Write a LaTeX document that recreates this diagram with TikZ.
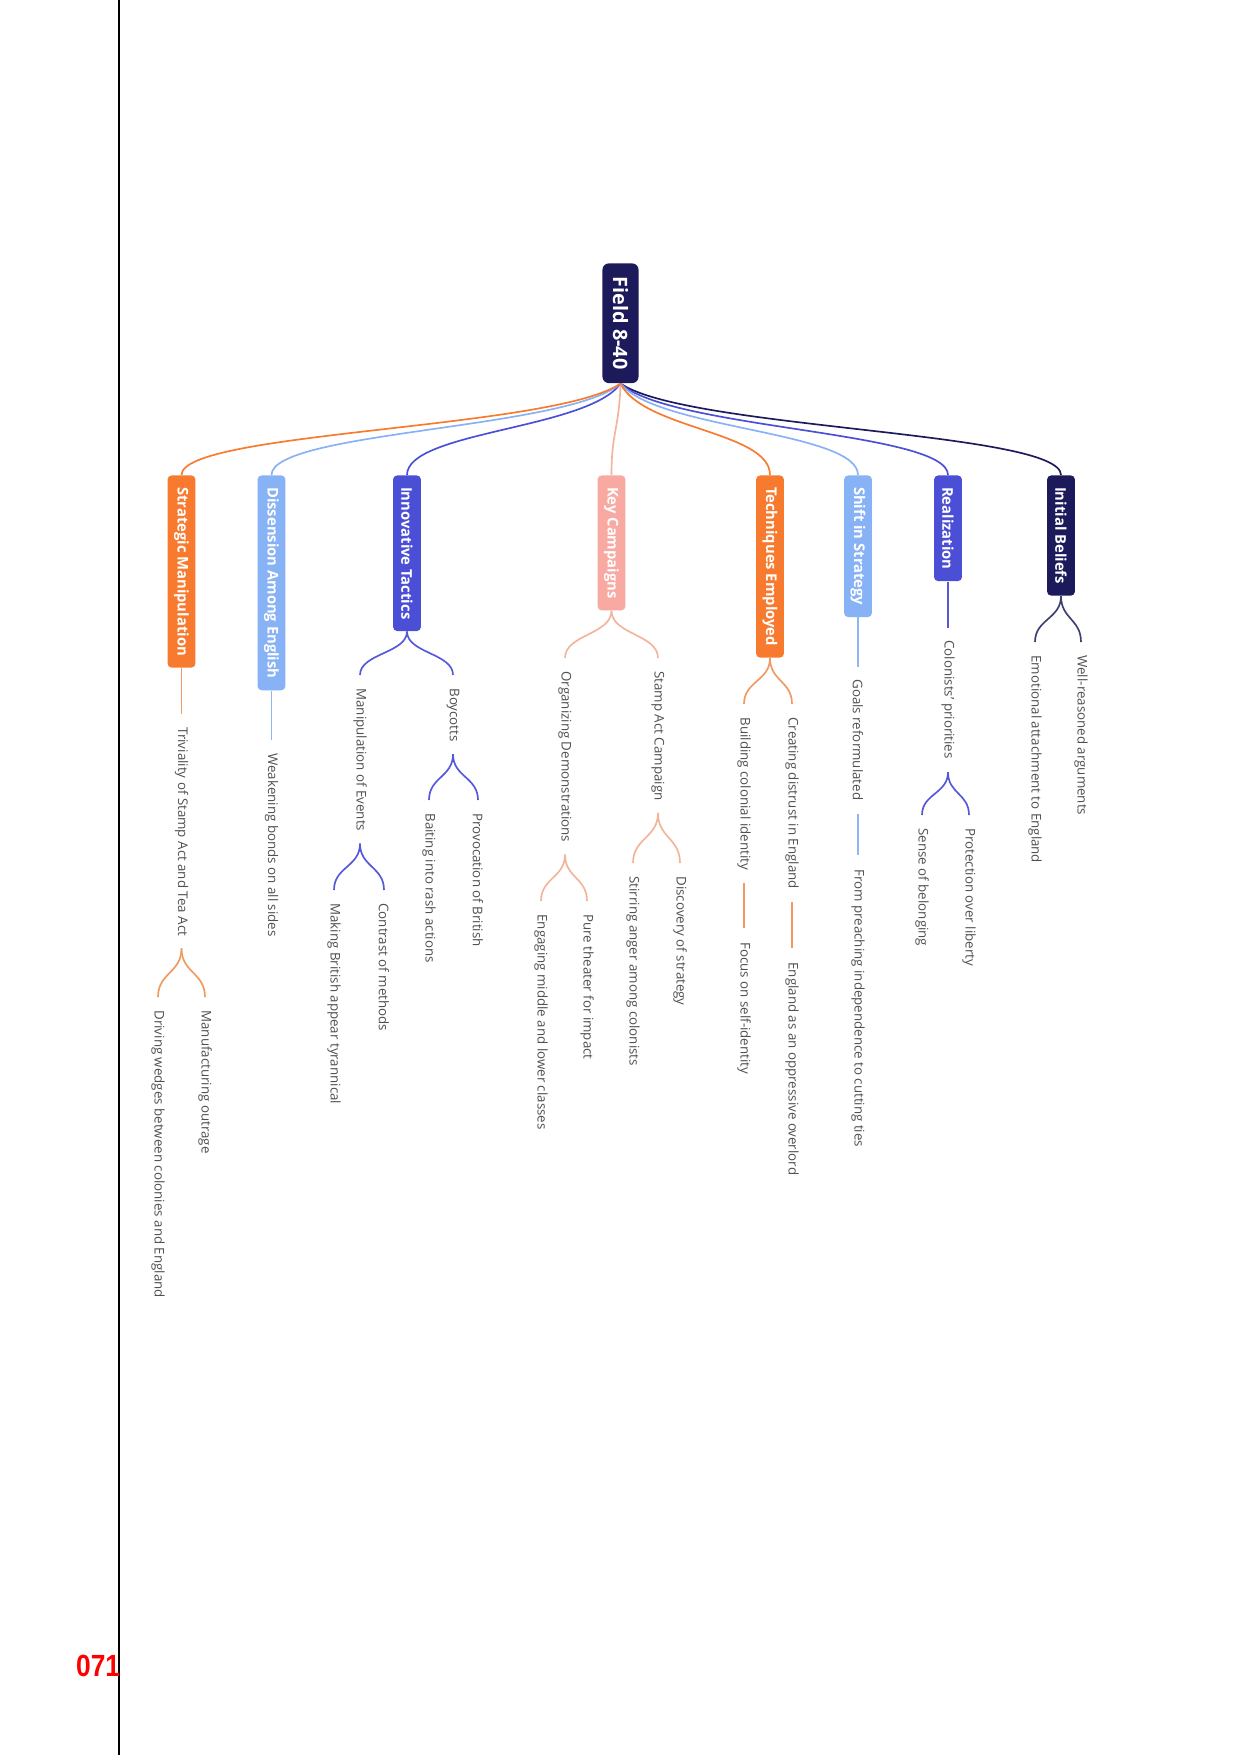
\documentclass[tikz,border=0pt]{standalone}
\usepackage{fontspec}
\setmainfont{Open Sans}
\newfontfamily\redfont{Liberation Sans}
\usetikzlibrary{calc}
\definecolor{mmnavy}{HTML}{1C1A5B}
\definecolor{mmblue}{HTML}{4B4FD6}
\definecolor{mmlight}{HTML}{87B2F6}
\definecolor{mmorange}{HTML}{F77A2E}
\definecolor{mmpink}{HTML}{F8A9A2}
\definecolor{mmsalmon}{HTML}{F3B49C}
\definecolor{forknavy}{HTML}{3E416F}
\definecolor{forkblue}{HTML}{5559D9}
\definecolor{forklight}{HTML}{8FB6F3}
\definecolor{forkorange}{HTML}{F09A62}
\definecolor{leafgray}{HTML}{505050}
\tikzset{
  leaf/.style={rotate=-90, anchor=west, inner sep=0pt, text=leafgray, font=\fontsize{6.4pt}{7pt}\selectfont},
  mmbox/.style={rotate=-90, anchor=west, rounded corners=2pt, minimum height=13.4pt, inner xsep=5.6pt, inner ysep=0pt, text=white, font=\bfseries\fontsize{7.1pt}{8pt}\selectfont},
  conn/.style={line width=0.8pt},
}
\newcommand{\mmfork}[3]{\draw[conn,#1] let \p1=(#2), \p2=(#3) in (\p1) .. controls ({\x1},{\y1-0.5*(\y1-\y2)}) and ({\x2},{\y2+0.5*(\y1-\y2)}) .. (\p2);}
\newcommand{\mmlink}[3]{\draw[conn,#1] let \p1=(#2), \p2=(#3) in (\p1) .. controls ({\x1+0.15*(\x2-\x1)},{\y1-22pt}) and ({\x2},{\y2+21pt}) .. (\p2);}
\begin{document}
\begin{tikzpicture}[x=0.48pt,y=-0.48pt]
\useasboundingbox (0,0) rectangle (1241,1755);
\fill[white] (0,0) rectangle (1241,1755);
% page rule and number
\coordinate (ruletop) at (119,0);
\coordinate (rulebot) at (119,1755);
\draw[line width=0.7pt,black] (ruletop) -- (rulebot);
\node[anchor=east, inner sep=0pt, text=red, xscale=0.86, font=\redfont\bfseries\fontsize{14.7pt}{16pt}\selectfont] (pagenum) at (120.5,1666) {071};
% root
\node[rotate=-90, anchor=west, fill=mmnavy, rounded corners=3pt, minimum height=17.3pt, inner xsep=6.5pt, inner ysep=0pt, text=white, font=\bfseries\fontsize{9.5pt}{11pt}\selectfont] (root) at (620.5,263) {Field 8-40};
% level 1
\node[mmbox, fill=mmnavy] (b1) at (1061,475) {Initial Beliefs};
\node[mmbox, fill=mmblue] (b2) at (948,475) {Realization};
\node[mmbox, fill=mmlight] (b3) at (858,475) {Shift in Strategy};
\node[mmbox, fill=mmorange] (b4) at (770,475) {Techniques Employed};
\node[mmbox, fill=mmpink] (b5) at (611.5,475) {Key Campaigns};
\node[mmbox, fill=mmblue] (b6) at (407,475) {Innovative Tactics};
\node[mmbox, fill=mmlight] (b7) at (271.5,475) {Dissension Among English};
\node[mmbox, fill=mmorange] (b8) at (181.5,475) {Strategic Manipulation};
% links root -> level 1
\mmlink{mmnavy}{root.east}{b1.west}
\mmlink{mmblue}{root.east}{b2.west}
\mmlink{mmlight}{root.east}{b3.west}
\mmlink{mmorange}{root.east}{b4.west}
\mmlink{mmsalmon}{root.east}{b5.west}
\mmlink{mmblue}{root.east}{b6.west}
\mmlink{mmlight}{root.east}{b7.west}
\mmlink{mmorange}{root.east}{b8.west}
% Initial Beliefs
\node[leaf] (l11) at (1081,655) {Well-reasoned arguments};
\node[leaf] (l12) at (1035,655) {Emotional attachment to England};
\mmfork{forknavy}{b1.east}{$(l11.west)+(0,-13)$}
\mmfork{forknavy}{b1.east}{$(l12.west)+(0,-13)$}
% Realization
\node[leaf] (l21) at (948,640) {Colonists' priorities};
\node[leaf] (l211) at (969,828) {Protection over liberty};
\node[leaf] (l212) at (922,828) {Sense of belonging};
\draw[conn,forkblue] (b2.east) -- ($(l21.west)+(0,-12)$);
\mmfork{forkblue}{$(l21.east)+(0,13)$}{$(l211.west)+(0,-13)$}
\mmfork{forkblue}{$(l21.east)+(0,13)$}{$(l212.west)+(0,-13)$}
% Shift in Strategy
\node[leaf] (l31) at (858,679) {Goals reformulated};
\node[leaf] (l311) at (858,869) {From preaching independence to cutting ties};
\draw[conn,forklight] (b3.east) -- ($(l31.west)+(0,-12)$);
\draw[conn,forklight] ($(l31.east)+(0,13)$) -- ($(l311.west)+(0,-14)$);
% Techniques Employed
\node[leaf] (l41) at (792,717) {Creating distrust in England};
\node[leaf] (l411) at (792,962) {England as an oppressive overlord};
\node[leaf] (l42) at (744,717) {Building colonial identity};
\node[leaf] (l421) at (744,942) {Focus on self-identity};
\mmfork{forkorange}{b4.east}{$(l41.west)+(0,-13)$}
\mmfork{forkorange}{b4.east}{$(l42.west)+(0,-13)$}
\draw[conn,forkorange] ($(l41.east)+(0,13)$) -- ($(l411.west)+(0,-14)$);
\draw[conn,forkorange] ($(l42.east)+(0,13)$) -- ($(l421.west)+(0,-14)$);
% Key Campaigns
\node[leaf] (l51) at (658,671) {Stamp Act Campaign};
\node[leaf] (l511) at (680,876) {Discovery of strategy};
\node[leaf] (l512) at (633,876) {Stirring anger among colonists};
\node[leaf] (l52) at (565,671) {Organizing Demonstrations};
\node[leaf] (l521) at (587,914) {Pure theater for impact};
\node[leaf] (l522) at (541,914) {Engaging middle and lower classes};
\mmfork{mmsalmon}{b5.east}{$(l51.west)+(0,-13)$}
\mmfork{mmsalmon}{b5.east}{$(l52.west)+(0,-13)$}
\mmfork{mmsalmon}{$(l51.east)+(0,12)$}{$(l511.west)+(0,-13)$}
\mmfork{mmsalmon}{$(l51.east)+(0,12)$}{$(l512.west)+(0,-13)$}
\mmfork{mmsalmon}{$(l52.east)+(0,12)$}{$(l521.west)+(0,-13)$}
\mmfork{mmsalmon}{$(l52.east)+(0,12)$}{$(l522.west)+(0,-13)$}
% Innovative Tactics
\node[leaf] (l61) at (453,688) {Boycotts};
\node[leaf] (l611) at (478,813) {Provocation of British};
\node[leaf] (l612) at (429,813) {Baiting into rash actions};
\node[leaf] (l62) at (360,688) {Manipulation of Events};
\node[leaf] (l621) at (384,903) {Contrast of methods};
\node[leaf] (l622) at (334,903) {Making British appear tyrannical};
\mmfork{forkblue}{b6.east}{$(l61.west)+(0,-13)$}
\mmfork{forkblue}{b6.east}{$(l62.west)+(0,-13)$}
\mmfork{forkblue}{$(l61.east)+(0,12)$}{$(l611.west)+(0,-13)$}
\mmfork{forkblue}{$(l61.east)+(0,12)$}{$(l612.west)+(0,-13)$}
\mmfork{forkblue}{$(l62.east)+(0,12)$}{$(l621.west)+(0,-13)$}
\mmfork{forkblue}{$(l62.east)+(0,12)$}{$(l622.west)+(0,-13)$}
% Dissension Among English
\node[leaf] (l71) at (271.5,753) {Weakening bonds on all sides};
\draw[conn,forklight] (b7.east) -- ($(l71.west)+(0,-13)$);
% Strategic Manipulation
\node[leaf] (l81) at (181.5,727) {Triviality of Stamp Act and Tea Act};
\node[leaf] (l811) at (205,1010) {Manufacturing outrage};
\node[leaf] (l812) at (158,1010) {Driving wedges between colonies and England};
\draw[conn,forkorange] (b8.east) -- ($(l81.west)+(0,-13)$);
\mmfork{forkorange}{$(l81.east)+(0,12)$}{$(l811.west)+(0,-13)$}
\mmfork{forkorange}{$(l81.east)+(0,12)$}{$(l812.west)+(0,-13)$}
\end{tikzpicture}
\end{document}
